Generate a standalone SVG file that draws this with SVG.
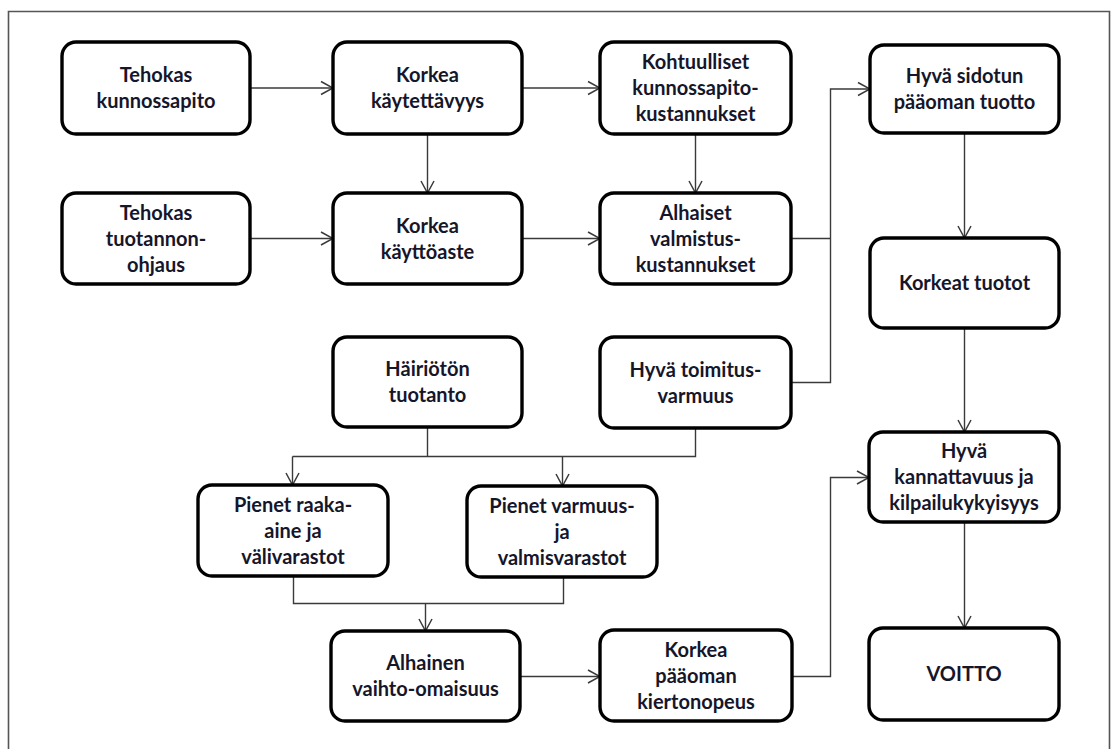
<svg xmlns="http://www.w3.org/2000/svg" width="1112" height="749" viewBox="0 0 1112 749">
  <defs>
    <marker id="arrow" viewBox="0 0 14 16" refX="13" refY="8" markerWidth="14" markerHeight="16" markerUnits="userSpaceOnUse" orient="auto">
      <path d="M1,1.5 L13,8 L1,14.5" fill="none" stroke="#3a3a3a" stroke-width="1.5"/>
    </marker>
    <style>
      .frame { fill: none; stroke: #555; stroke-width: 1.6; }
      .box { fill: #fff; stroke: #000; stroke-width: 3.4; }
      .lbl { font-family: Lato, "Liberation Sans", sans-serif; font-weight: bold; font-size: 20px; fill: #16162a; text-anchor: middle; }
      .edge { fill: none; stroke: #3a3a3a; stroke-width: 1.4; }
      .arr { marker-end: url(#arrow); }
    </style>
  </defs>

  <rect width="1112" height="749" fill="#fff"/>
  <!-- outer frame, open at the bottom edge -->
  <path class="frame" d="M8.5,760 V11.5 H1109.5 V760"/>

  <!-- connectors -->
  <g id="connectors">
    <path class="edge arr" d="M250,88 H333"/>
    <path class="edge arr" d="M522,88 H600"/>
    <path class="edge arr" d="M427.5,134 V193"/>
    <path class="edge arr" d="M695.5,134 V193"/>
    <path class="edge arr" d="M250,238.5 H333"/>
    <path class="edge arr" d="M522,238.5 H600"/>
    <path class="edge" d="M791,238.5 H830.5"/>
    <path class="edge arr" d="M791,382.5 H830.5 V89 H870"/>
    <path class="edge arr" d="M964.5,133 V238"/>
    <path class="edge arr" d="M964.5,328 V432"/>
    <path class="edge arr" d="M964.5,522 V628"/>
    <path class="edge" d="M427.5,427 V456.5"/>
    <path class="edge" d="M695.5,428 V456.5 H292.5"/>
    <path class="edge arr" d="M292.5,456.5 V485"/>
    <path class="edge arr" d="M562.5,456.5 V486"/>
    <path class="edge" d="M293.5,576 V603.5 H563.5 V577"/>
    <path class="edge arr" d="M425.5,603.5 V631"/>
    <path class="edge arr" d="M520,676.5 H600"/>
    <path class="edge arr" d="M792,676.5 H830.5 V477.5 H869"/>
  </g>

  <g id="n1">
    <rect class="box" x="62" y="42" width="188" height="92" rx="14"/>
    <text class="lbl"><tspan x="156" y="82">Tehokas</tspan><tspan x="156" y="108">kunnossapito</tspan></text>
  </g>
  <g id="n2">
    <rect class="box" x="333" y="42" width="189" height="92" rx="14"/>
    <text class="lbl"><tspan x="427.5" y="82">Korkea</tspan><tspan x="427.5" y="108">käytettävyys</tspan></text>
  </g>
  <g id="n3">
    <rect class="box" x="600" y="42" width="191" height="92" rx="14"/>
    <text class="lbl"><tspan x="695.5" y="69">Kohtuulliset</tspan><tspan x="695.5" y="95">kunnossapito-</tspan><tspan x="695.5" y="121">kustannukset</tspan></text>
  </g>
  <g id="n4">
    <rect class="box" x="870" y="45" width="189" height="88" rx="14"/>
    <text class="lbl"><tspan x="964.5" y="83">Hyvä sidotun</tspan><tspan x="964.5" y="109">pääoman tuotto</tspan></text>
  </g>
  <g id="n5">
    <rect class="box" x="62" y="193" width="188" height="91" rx="14"/>
    <text class="lbl"><tspan x="156" y="220">Tehokas</tspan><tspan x="156" y="246">tuotannon-</tspan><tspan x="156" y="272">ohjaus</tspan></text>
  </g>
  <g id="n6">
    <rect class="box" x="333" y="193" width="189" height="91" rx="14"/>
    <text class="lbl"><tspan x="427.5" y="233">Korkea</tspan><tspan x="427.5" y="259">käyttöaste</tspan></text>
  </g>
  <g id="n7">
    <rect class="box" x="600" y="193" width="191" height="91" rx="14"/>
    <text class="lbl"><tspan x="695.5" y="220">Alhaiset</tspan><tspan x="695.5" y="246">valmistus-</tspan><tspan x="695.5" y="272">kustannukset</tspan></text>
  </g>
  <g id="n8">
    <rect class="box" x="870" y="238" width="189" height="90" rx="14"/>
    <text class="lbl" x="964.5" y="290">Korkeat tuotot</text>
  </g>
  <g id="n9">
    <rect class="box" x="333" y="337" width="189" height="90" rx="14"/>
    <text class="lbl"><tspan x="427.5" y="376">Häiriötön</tspan><tspan x="427.5" y="402">tuotanto</tspan></text>
  </g>
  <g id="n10">
    <rect class="box" x="600" y="337" width="191" height="91" rx="14"/>
    <text class="lbl"><tspan x="695.5" y="377">Hyvä toimitus-</tspan><tspan x="695.5" y="403">varmuus</tspan></text>
  </g>
  <g id="n11">
    <rect class="box" x="198" y="485" width="190" height="91" rx="14"/>
    <text class="lbl"><tspan x="293" y="512">Pienet raaka-</tspan><tspan x="293" y="538">aine ja</tspan><tspan x="293" y="564">välivarastot</tspan></text>
  </g>
  <g id="n12">
    <rect class="box" x="467" y="486" width="190" height="91" rx="14"/>
    <text class="lbl"><tspan x="562" y="513">Pienet varmuus-</tspan><tspan x="562" y="539">ja</tspan><tspan x="562" y="565">valmisvarastot</tspan></text>
  </g>
  <g id="n13">
    <rect class="box" x="869" y="432" width="190" height="90" rx="14"/>
    <text class="lbl"><tspan x="964" y="458">Hyvä</tspan><tspan x="964" y="484">kannattavuus ja</tspan><tspan x="964" y="510">kilpailukykyisyys</tspan></text>
  </g>
  <g id="n14">
    <rect class="box" x="331" y="631" width="189" height="90" rx="14"/>
    <text class="lbl"><tspan x="425.5" y="670">Alhainen</tspan><tspan x="425.5" y="696">vaihto-omaisuus</tspan></text>
  </g>
  <g id="n15">
    <rect class="box" x="600" y="630" width="192" height="91" rx="14"/>
    <text class="lbl"><tspan x="696" y="657">Korkea</tspan><tspan x="696" y="683">pääoman</tspan><tspan x="696" y="709">kiertonopeus</tspan></text>
  </g>
  <g id="n16">
    <rect class="box" x="869" y="628" width="190" height="92" rx="14"/>
    <text class="lbl" x="964" y="681">VOITTO</text>
  </g>
</svg>
